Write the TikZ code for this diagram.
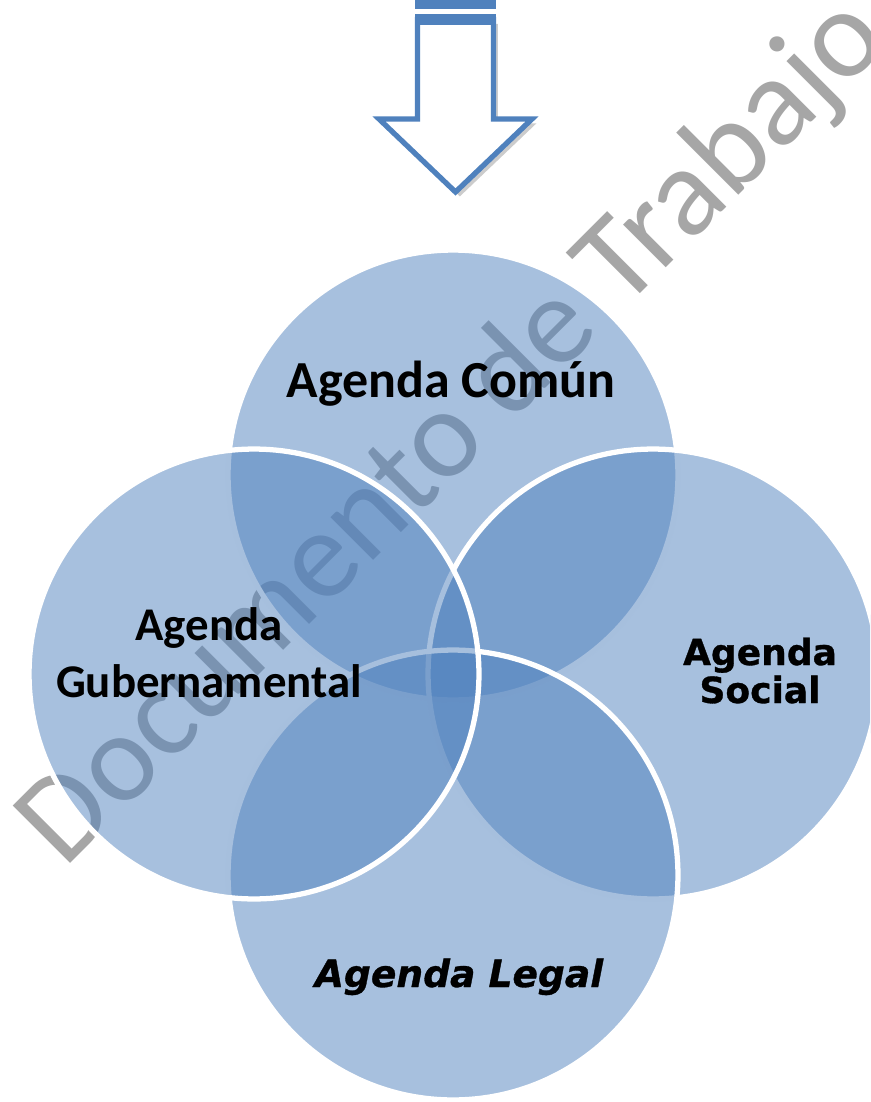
\documentclass[tikz,border=0pt]{standalone}
\usepackage{fontspec}
\setmainfont{Carlito}
\newfontfamily\verdanafont{DejaVu Sans}[BoldFeatures={FakeBold=0.9}, BoldItalicFeatures={FakeBold=0.9}]
\usetikzlibrary{positioning, shadows}
\definecolor{agendablue}{HTML}{4F81BD}
\definecolor{markgray}{HTML}{A6A6A6}

\begin{document}
\begin{tikzpicture}[
    x=0.02cm, y=-0.02cm,
    agenda/.style={circle, draw=white, line width=3pt, fill=agendablue, fill opacity=0.5, minimum size=9cm, inner sep=0pt},
    lblc/.style={font=\bfseries\fontsize{29.6}{34}\selectfont, inner sep=0pt, anchor=base, align=center},
    lblg/.style={font=\bfseries\fontsize{26.7}{32.4}\selectfont, inner sep=0pt, anchor=base, align=center},
    lbls/.style={font=\verdanafont\bfseries\fontsize{20.5}{21.6}\selectfont, inner sep=0pt, anchor=base, align=center},
    lbll/.style={font=\verdanafont\bfseries\itshape\fontsize{21.4}{24}\selectfont, inner sep=0pt, anchor=base},
    watermark/.style={font=\fontsize{72}{80}\selectfont, text=markgray, inner sep=0pt, anchor=base, rotate=45},
    blockarrow/.style={draw=agendablue, line width=3pt, fill=white, line join=miter,
        drop shadow={opacity=0.4, shadow xshift=2.5pt, shadow yshift=-2.5pt}}]

\useasboundingbox (0,0) rectangle (870,1102);
\clip (0,0) rectangle (870,1102);

% Watermark behind the circles
\node[watermark] (marca) at (478,456) {Documento de Trabajo};

% Arrow at the top
\draw[blockarrow] (417.5,19.5) -- (417.5,119) -- (379,119) -- (455.5,192)
    -- (532,119) -- (493.5,119) -- (493.5,19.5) -- cycle;
\fill[agendablue] (415,0) rectangle (496,9);
\fill[agendablue] (415,14) rectangle (496,25);

% Four circles
\node[agenda] (comun) at (453,475) {};
\node[agenda] (social) at (653,674) {};
\node[agenda] (legal) at (453,875) {};
\node[agenda] (gub) at (254,674) {};

% Labels (base = last line)
\node[lblc] (comun-txt) at (451,397) {Agenda Común};
\node[lblg] (gub-txt) at (209,697) {Agenda\\Gubernamental};
\node[lbls] (social-txt) at (760,703) {Agenda\\Social};
\node[lbll] (legal-txt) at (459,987) {Agenda Legal};

\end{tikzpicture}
\end{document}
